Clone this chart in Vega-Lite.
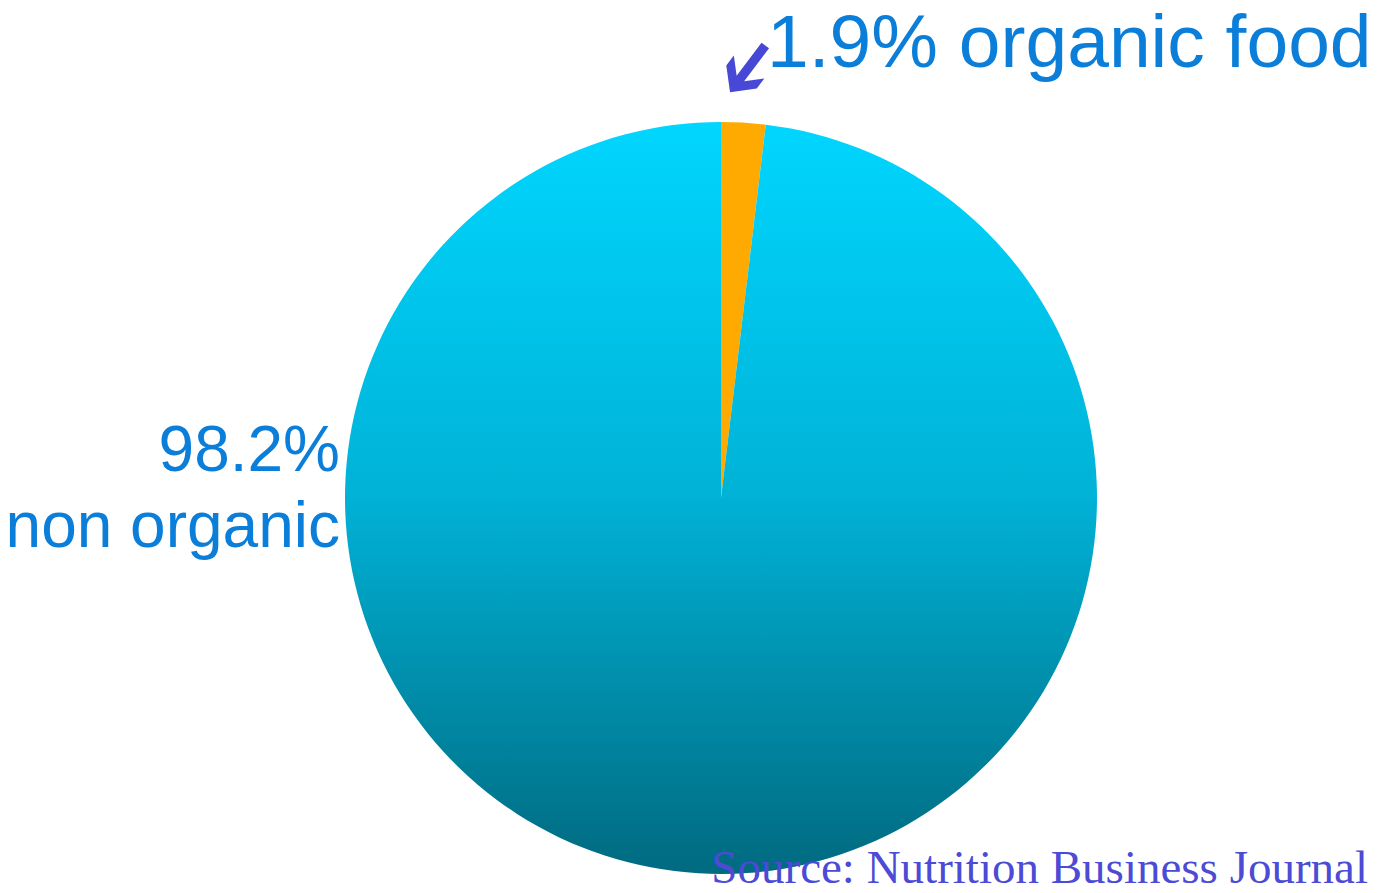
{
  "$schema": "https://vega.github.io/schema/vega-lite/v6.json",
  "width": 1322,
  "height": 790,
  "autosize": {"type": "none"},
  "padding": {"left": 60, "top": 103, "right": 0, "bottom": 0},
  "background": "white",
  "config": {"view": {"stroke": null}},
  "datasets": {
    "shares": [
      {"category": "organic food", "share": 1.9, "label": "1.9% organic food"},
      {"category": "non organic", "share": 98.2, "label": "98.2%\nnon organic"}
    ],
    "notes": [
      {"kind": "arrow", "label": "➔"},
      {"kind": "source", "label": "Source: Nutrition Business Journal"}
    ]
  },
  "data": {"name": "shares"},
  "layer": [
    {
      "mark": {"type": "arc", "radius": 376, "stroke": null},
      "encoding": {
        "theta": {"field": "share", "type": "quantitative", "stack": true},
        "fill": {
          "condition": {"test": "datum.category === 'organic food'", "value": "#ffaa00"},
          "value": {
            "gradient": "linear", "x1": 0, "y1": 0, "x2": 0, "y2": 1,
            "stops": [
              {"offset": 0, "color": "#00d6ff"},
              {"offset": 0.5, "color": "#00b2d6"},
              {"offset": 1, "color": "#006a80"}
            ]
          }
        }
      }
    },
    {
      "transform": [{"filter": "datum.category === 'organic food'"}],
      "mark": {"type": "text", "align": "left", "baseline": "alphabetic", "dx": 46, "dy": -431, "font": "Liberation Sans", "fontSize": 75, "color": "#0a7ed8"},
      "encoding": {"text": {"field": "label"}}
    },
    {
      "transform": [{"filter": "datum.category === 'non organic'"}],
      "mark": {"type": "text", "align": "right", "baseline": "alphabetic", "dx": -381, "dy": -27, "font": "Liberation Sans", "fontSize": 64, "lineHeight": 76, "lineBreak": "\n", "color": "#0a7ed8"},
      "encoding": {"text": {"field": "label"}}
    },
    {
      "data": {"name": "notes"},
      "transform": [{"filter": "datum.kind === 'arrow'"}],
      "mark": {"type": "text", "align": "center", "baseline": "middle", "dx": -359, "dy": 238, "angle": 127, "font": "DejaVu Sans", "fontSize": 80, "color": "#4848d6"},
      "encoding": {"text": {"field": "label"}}
    },
    {
      "data": {"name": "notes"},
      "transform": [{"filter": "datum.kind === 'source'"}],
      "mark": {"type": "text", "align": "right", "baseline": "alphabetic", "dx": 647, "dy": 385, "font": "Liberation Serif", "fontSize": 47, "color": "#4b4bd6"},
      "encoding": {"text": {"field": "label"}}
    }
  ]
}
